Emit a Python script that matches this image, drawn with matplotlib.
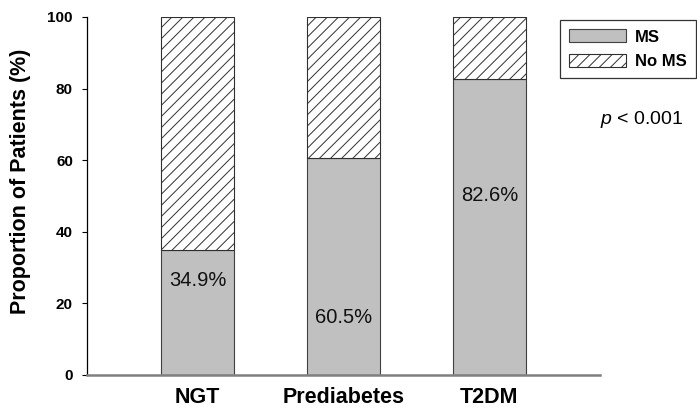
import matplotlib
matplotlib.use("Agg")
import matplotlib.pyplot as plt
from matplotlib.patches import Patch

plt.rcParams["font.family"] = ["Liberation Sans", "DejaVu Sans"]
plt.rcParams["mathtext.fontset"] = "custom"
plt.rcParams["mathtext.it"] = "Liberation Sans:italic"
plt.rcParams["mathtext.rm"] = "Liberation Sans"
plt.rcParams["hatch.linewidth"] = 0.7

# Datos
grupos = ["NGT", "Prediabetes", "T2DM"]
ms = [34.9, 60.5, 82.6]
no_ms = [100 - v for v in ms]
etiquetas = ["34.9%", "60.5%", "82.6%"]
pos_etiquetas = [26.5, 16.0, 50.0]
yticks = [0, 20, 40, 60, 80, 100]

fig = plt.figure(figsize=(6.97, 4.08), dpi=100)
ax = fig.add_axes([87 / 697, 1 - 375 / 408, 513 / 697, 358 / 408])

x = list(range(len(grupos)))
ax.bar(x, ms, width=0.5, color="#c0c0c0", edgecolor="#404040", linewidth=0.8, zorder=2)
ax.bar(x, no_ms, width=0.5, bottom=ms, color="white", edgecolor="#303030",
       hatch="///", linewidth=0.8, zorder=2)

for xi, txt, yi in zip(x, etiquetas, pos_etiquetas):
    ax.text(xi, yi, txt, ha="center", va="center", fontsize=14.5, color="#111111", zorder=3)

ax.set_xlim(-0.757, 2.757)
ax.set_ylim(0, 100)
ax.set_yticks(yticks)
ax.set_yticklabels([str(v) for v in yticks], fontsize=11, fontweight="bold")
ax.set_xticks(x)
ax.set_xticklabels(grupos, fontsize=15.5, fontweight="bold")
ax.tick_params(axis="x", length=0, pad=8.8)
ax.tick_params(axis="y", direction="out", length=3.6, width=0.8, pad=6.5)

# etiqueta del eje y colocada a mano
fig.text(21 / 697, 1 - 181.5 / 408, "Proportion of Patients (%)", rotation=90,
         ha="center", va="center", fontsize=15.5, fontweight="bold")

ax.spines["top"].set_visible(False)
ax.spines["right"].set_visible(False)
ax.spines["left"].set_color("black")
ax.spines["left"].set_linewidth(0.9)
ax.spines["bottom"].set_color("#808080")
ax.spines["bottom"].set_linewidth(1.8)

handles = [
    Patch(facecolor="#c0c0c0", edgecolor="#404040", linewidth=0.8, label="MS"),
    Patch(facecolor="white", edgecolor="#303030", hatch="///", linewidth=0.8, label="No MS"),
]
leg = fig.legend(handles=handles, loc="upper right", bbox_to_anchor=(695.5 / 697, 1 - 20 / 408),
                 prop={"weight": "bold", "size": 12}, frameon=True,
                 fancybox=False, edgecolor="black", handlelength=3.4, handleheight=0.84,
                 borderpad=0.55, labelspacing=0.56, handletextpad=0.54, borderaxespad=0)
leg.get_frame().set_linewidth(0.9)

fig.text(600 / 697, 1 - 120 / 408, r"$\it{p}$ < 0.001", fontsize=14, va="center", ha="left")

fig.savefig("out.png", dpi=100)
